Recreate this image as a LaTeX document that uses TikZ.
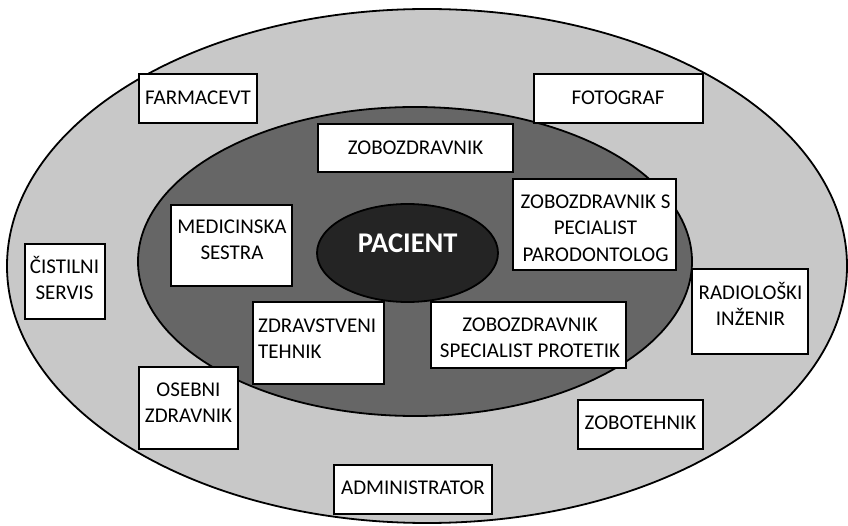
\documentclass[tikz,border=0pt]{standalone}
\usepackage{fontspec}
\setmainfont{Carlito}
\usetikzlibrary{shapes.geometric}
\definecolor{outergray}{RGB}{200,200,200}
\definecolor{innergray}{RGB}{102,102,102}
\definecolor{coregray}{RGB}{36,36,36}
\newcommand\fstrut{\rule{0pt}{18pt}}
\tikzset{
  ring/.style={ellipse, draw=black, line width=1.8pt, inner sep=0pt},
  rolebox/.style={rectangle, draw=black, fill=white, line width=2pt, inner sep=0pt},
  lbl/.style={inner sep=0pt, anchor=north, align=center, text=black,
    font=\fontsize{21}{26.5}\selectfont},
}
\begin{document}
\begin{tikzpicture}[x=1pt,y=-1pt]
\useasboundingbox (0,0) rectangle (848,526);
% ellipses
\node[ring, fill=outergray, minimum width=840pt, minimum height=514pt] (outer) at (427,266) {};
\node[ring, fill=innergray, minimum width=554pt, minimum height=309pt] (inner) at (415,261.5) {};
\node[ring, fill=coregray, minimum width=181pt, minimum height=98pt] (core) at (407.5,253) {};
\node[inner sep=0pt, anchor=base, text=white, font=\bfseries\fontsize{28.5}{34}\selectfont] (coreT) at (407.7,253) {PACIENT};
% boxes
\node[rolebox, minimum width=118pt, minimum height=49pt] (farm) at (198,98.5) {};
\node[rolebox, minimum width=169pt, minimum height=49pt] (foto) at (618.5,98.5) {};
\node[rolebox, minimum width=195pt, minimum height=48pt] (zobo) at (415.5,148) {};
\node[rolebox, minimum width=121pt, minimum height=81pt] (med) at (231.5,245.5) {};
\node[rolebox, minimum width=163pt, minimum height=91pt] (paro) at (594.5,224.5) {};
\node[rolebox, minimum width=80pt, minimum height=75pt] (cist) at (65,281.5) {};
\node[rolebox, minimum width=131pt, minimum height=82pt] (zdr) at (318.5,343) {};
\node[rolebox, minimum width=99pt, minimum height=82pt] (oseb) at (188.5,408) {};
\node[rolebox, minimum width=158pt, minimum height=49pt] (admin) at (413,489.5) {};
\node[rolebox, minimum width=195pt, minimum height=66pt] (prot) at (528.5,335) {};
\node[rolebox, minimum width=116pt, minimum height=85pt] (radio) at (750,311.5) {};
\node[rolebox, minimum width=125pt, minimum height=49pt] (zobot) at (640.5,424.5) {};
% labels (first baseline = y + 18)
\node[lbl] (farmT) at (198,86) {\fstrut FARMACEVT};
\node[lbl] (fotoT) at (618,86) {\fstrut FOTOGRAF};
\node[lbl] (zoboT) at (415.5,136) {\fstrut ZOBOZDRAVNIK};
\node[lbl] (medT) at (232,215) {\fstrut MEDICINSKA\\SESTRA};
\node[lbl] (paroT) at (595.5,190) {\fstrut ZOBOZDRAVNIK S\\PECIALIST\\PARODONTOLOG};
\node[lbl] (cistT) at (64.5,255) {\fstrut ČISTILNI\\SERVIS};
\node[lbl, anchor=north west, align=left] (zdrT) at (258,314) {\fstrut ZDRAVSTVENI\\TEHNIK};
\node[lbl] (osebT) at (188.5,378) {\fstrut OSEBNI\\ZDRAVNIK};
\node[lbl] (adminT) at (413,476) {\fstrut ADMINISTRATOR};
\node[lbl] (protT) at (530,313) {\fstrut ZOBOZDRAVNIK\\SPECIALIST PROTETIK};
\node[lbl] (radioT) at (750.5,281) {\fstrut RADIOLOŠKI\\INŽENIR};
\node[lbl] (zobotT) at (640.5,411) {\fstrut ZOBOTEHNIK};
\end{tikzpicture}
\end{document}
